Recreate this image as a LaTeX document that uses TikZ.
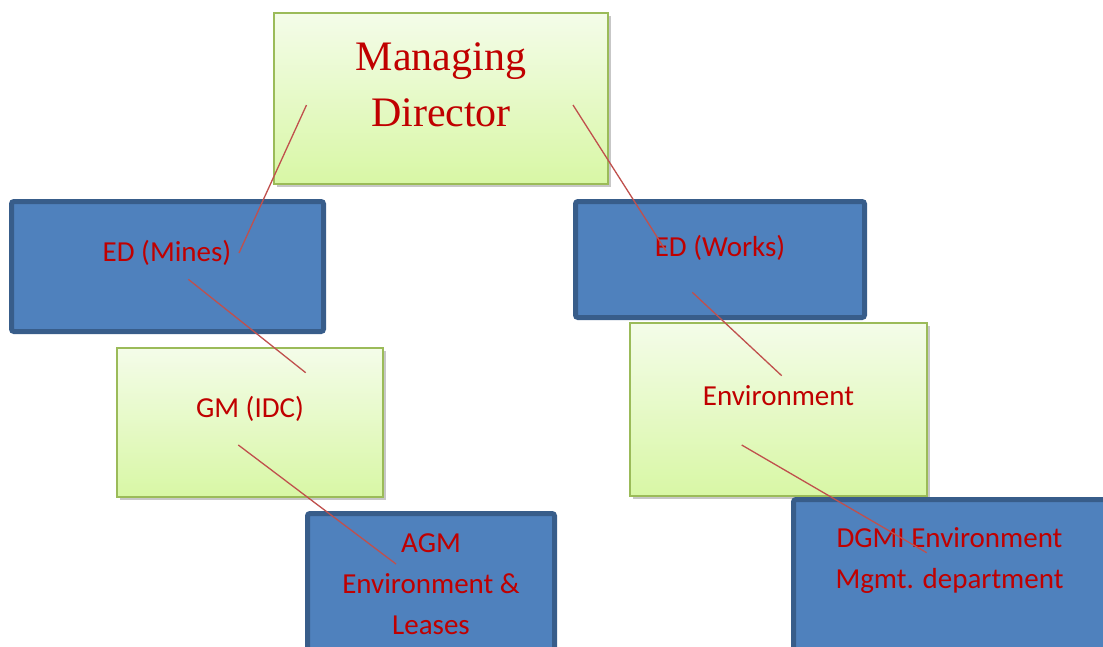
\documentclass[tikz,border=0pt]{standalone}
\usepackage{fontspec}
\setmainfont{Carlito}
\newfontfamily\mdserif{Liberation Serif}
\usetikzlibrary{shadows}
\definecolor{bluefill}{HTML}{4F81BD}
\definecolor{blueborder}{HTML}{385D8A}
\definecolor{greenborder}{HTML}{9BBB59}
\definecolor{greentop}{HTML}{F4FCE9}
\definecolor{greenbot}{HTML}{D8F7A5}
\definecolor{txtred}{HTML}{C00000}
\definecolor{linkred}{HTML}{C0504D}
\tikzset{
  greenbox/.style={draw=greenborder, line width=1.5pt, top color=greentop, bottom color=greenbot,
    rectangle, inner sep=0pt, outer sep=0pt,
    drop shadow={shadow xshift=2.5pt, shadow yshift=-2.5pt, opacity=0.22, fill=black}},
  bluebox/.style={draw=blueborder, line width=5pt, fill=bluefill, rectangle, rounded corners=2.5pt,
    inner sep=0pt, outer sep=0pt},
  lbl/.style={text=txtred, font=\fontsize{29}{41}\selectfont, inner sep=0pt, align=center},
  mdlbl/.style={text=txtred, font=\fontsize{42}{56}\mdserif, inner sep=0pt, align=center},
  link/.style={draw=linkred, line width=1.3pt}
}
\begin{document}
\begin{tikzpicture}[x=1pt,y=-1pt]
\useasboundingbox (0,0) rectangle (1103,646);
\clip (0,0) rectangle (1103,646);
\fill[white] (0,0) rectangle (1103,646);

% boxes
\node[greenbox, minimum width=334pt, minimum height=171pt] (mdbox) at (441,98.5) {};
\node[bluebox, minimum width=312pt, minimum height=130pt] (minesbox) at (167.5,266.5) {};
\node[bluebox, minimum width=289pt, minimum height=116pt] (worksbox) at (720,259.5) {};
\node[greenbox, minimum width=266pt, minimum height=149pt] (gmbox) at (250,422.5) {};
\node[greenbox, minimum width=297pt, minimum height=173pt] (envbox) at (778.5,409.5) {};
\node[bluebox, minimum width=247pt, minimum height=220pt] (agmbox) at (431,623.5) {};
\node[bluebox, minimum width=420pt, minimum height=220pt] (dgmbox) at (1003.5,609.5) {};

% labels (base anchor = baseline of the last line)
\node[mdlbl, anchor=base] (md) at (441,126) {Managing\\Director};
\node[lbl, anchor=base] (mines) at (167,261) {ED (Mines)};
\node[lbl, anchor=base] (works) at (720,256) {ED (Works)};
\node[lbl, anchor=base] (gm) at (250,417) {GM (IDC)};
\node[lbl, anchor=base] (env) at (778.5,405) {Environment};
\node[lbl, anchor=base] (agm) at (431,634) {AGM\\Environment \&\\Leases};
\node[lbl, anchor=base] (dgm) at (949.5,588) {DGMI Environment\\Mgmt. department};

% connector end points
\coordinate (md-l) at (306.5,105);
\coordinate (mines-t) at (239,253);
\coordinate (md-r) at (573,105);
\coordinate (works-t) at (666,251);
\coordinate (mines-b) at (188.3,279.3);
\coordinate (gm-t) at (305.7,372.7);
\coordinate (works-b) at (692.3,292.3);
\coordinate (env-t) at (781.7,375.7);
\coordinate (gm-b) at (238.3,445);
\coordinate (agm-t) at (396,564);
\coordinate (env-b) at (741.7,445);
\coordinate (dgm-t) at (926.7,552.7);

% connectors
\draw[link] (md-l) -- (mines-t);
\draw[link] (md-r) -- (works-t);
\draw[link] (mines-b) -- (gm-t);
\draw[link] (works-b) -- (env-t);
\draw[link] (gm-b) -- (agm-t);
\draw[link] (env-b) -- (dgm-t);
\end{tikzpicture}
\end{document}
